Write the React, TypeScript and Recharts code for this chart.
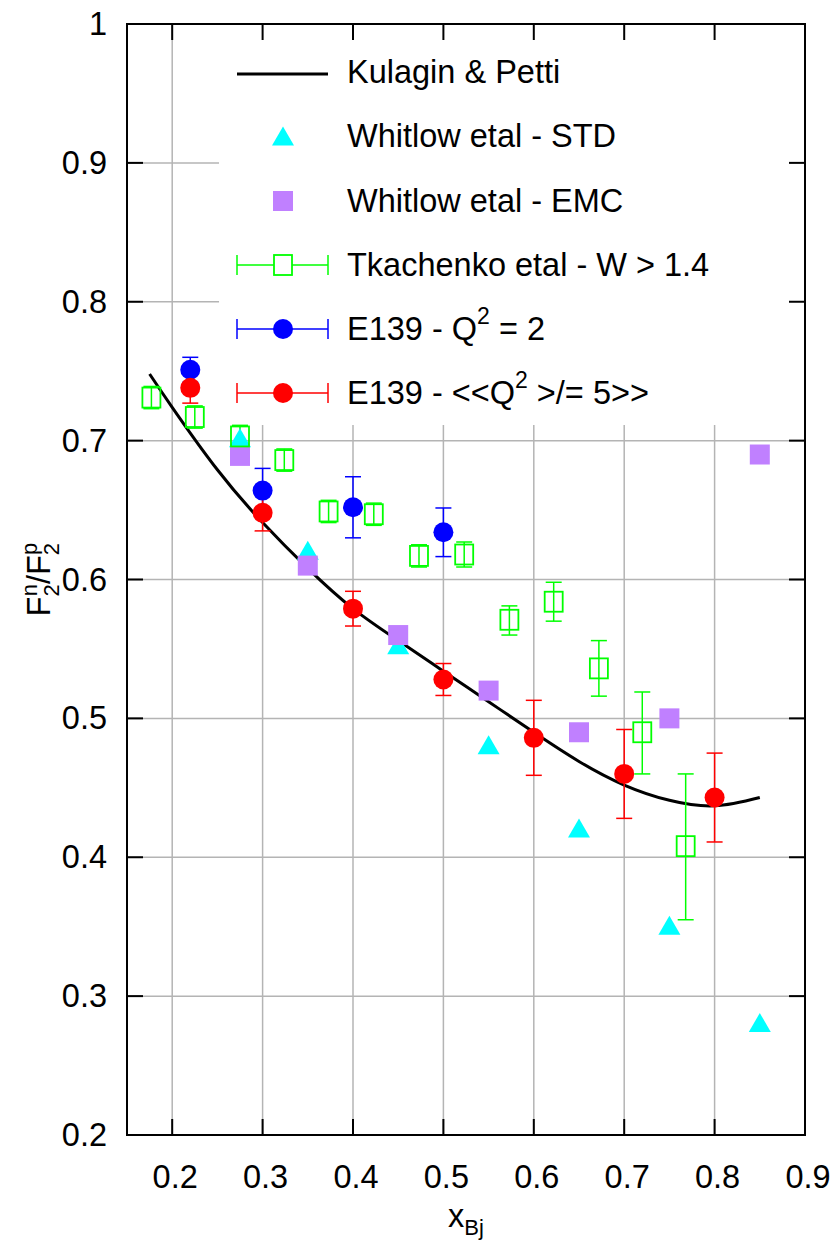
import React from 'react'
import { ComposedChart, Line, Scatter, ErrorBar, XAxis, YAxis, CartesianGrid, ReferenceArea, Legend } from 'recharts'

const xTicks = [0.2, 0.3, 0.4, 0.5, 0.6, 0.7, 0.8, 0.9]
const yTicks = [0.2, 0.3, 0.4, 0.5, 0.6, 0.7, 0.8, 0.9, 1]

// Kulagin & Petti curve
const kpX = [0.175, 0.2, 0.25, 0.3, 0.35, 0.4, 0.45, 0.5, 0.55, 0.6, 0.65, 0.7, 0.75, 0.8, 0.85]
const kpY = [0.748, 0.724, 0.679, 0.641, 0.608, 0.579, 0.556, 0.534, 0.512, 0.49, 0.469, 0.452, 0.441, 0.437, 0.443]

// Whitlow etal - STD
const stdX = [0.275, 0.35, 0.45, 0.55, 0.65, 0.75, 0.85]
const stdY = [0.702, 0.621, 0.553, 0.481, 0.421, 0.351, 0.281]

// Whitlow etal - EMC
const emcX = [0.275, 0.35, 0.45, 0.55, 0.65, 0.75, 0.85]
const emcY = [0.689, 0.61, 0.56, 0.52, 0.49, 0.5, 0.69]

// Tkachenko etal - W > 1.4
const tkX = [0.177, 0.225, 0.275, 0.324, 0.373, 0.423, 0.473, 0.523, 0.573, 0.622, 0.672, 0.72, 0.768]
const tkY = [0.731, 0.717, 0.703, 0.686, 0.649, 0.647, 0.617, 0.618, 0.571, 0.584, 0.536, 0.49, 0.408]
const tkLo = [0.008, 0.008, 0.008, 0.008, 0.008, 0.008, 0.008, 0.009, 0.011, 0.014, 0.02, 0.03, 0.053]
const tkHi = [0.008, 0.008, 0.008, 0.008, 0.008, 0.008, 0.008, 0.009, 0.01, 0.014, 0.02, 0.029, 0.052]

// E139 - Q2 = 2
const q2X = [0.22, 0.3, 0.4, 0.5]
const q2Y = [0.751, 0.664, 0.652, 0.634]
const q2Err = [0.009, 0.016, 0.022, 0.0175]

// E139 - <<Q2>/= 5>>
const q5X = [0.22, 0.3, 0.4, 0.5, 0.6, 0.7, 0.8]
const q5Y = [0.738, 0.648, 0.579, 0.528, 0.486, 0.46, 0.443]
const q5Err = [0.011, 0.013, 0.0125, 0.0115, 0.027, 0.032, 0.032]

const kpData = kpX.map((x, i) => ({ x, y: kpY[i] }))
const stdData = stdX.map((x, i) => ({ x, y: stdY[i] }))
const emcData = emcX.map((x, i) => ({ x, y: emcY[i] }))
const tkData = tkX.map((x, i) => ({ x, y: tkY[i], err: [tkLo[i], tkHi[i]] }))
const q2Data = q2X.map((x, i) => ({ x, y: q2Y[i], err: q2Err[i] }))
const q5Data = q5X.map((x, i) => ({ x, y: q5Y[i], err: q5Err[i] }))

const FONT = '"Liberation Sans", Arial, Helvetica, sans-serif'
const FS = 32.5
const CYAN = '#00ffff'
const PURPLE = '#c080ff'
const GREEN = '#00ff00'
const BLUE = '#0000ff'
const RED = '#ff0000'

// plot frame (margins below put it here)
const W = 833
const H = 1241
const M = { top: 24, right: 28, bottom: 16, left: 27 }
const X_AXIS_H = 90
const Y_AXIS_W = 100
const PLOT_TOP = M.top
const PLOT_BOTTOM = H - M.bottom - X_AXIS_H
const PLOT_LEFT = M.left + Y_AXIS_W
const PLOT_RIGHT = W - M.right
const TICK = 16

const Triangle = ({ cx, cy }: any) => (
  <polygon points={`${cx - 11},${cy + 9.5} ${cx + 11},${cy + 9.5} ${cx},${cy - 9.5}`} fill={CYAN} />
)
const FilledSquare = ({ cx, cy }: any) => <rect x={cx - 10} y={cy - 10} width={20} height={20} fill={PURPLE} />
const OpenSquare = ({ cx, cy }: any) => (
  <rect x={cx - 9} y={cy - 10} width={18} height={20} fill="none" stroke={GREEN} strokeWidth={1.8} />
)
const Dot = (color: string) => ({ cx, cy }: any) => <circle cx={cx} cy={cy} r={10} fill={color} />

// inward ticks on both sides of the frame + label
const XTick = ({ x, payload }: any) => (
  <g>
    <line x1={x} x2={x} y1={PLOT_BOTTOM} y2={PLOT_BOTTOM - TICK} stroke="#000" strokeWidth={2} />
    <line x1={x} x2={x} y1={PLOT_TOP} y2={PLOT_TOP + TICK} stroke="#000" strokeWidth={2} />
    <text x={x + 3} y={PLOT_BOTTOM + 53} textAnchor="middle" fontSize={FS} fontFamily={FONT} fill="#000">
      {payload.value}
    </text>
  </g>
)
const YTick = ({ y, payload }: any) => (
  <g>
    <line x1={PLOT_LEFT} x2={PLOT_LEFT + TICK} y1={y} y2={y} stroke="#000" strokeWidth={2} />
    <line x1={PLOT_RIGHT} x2={PLOT_RIGHT - TICK} y1={y} y2={y} stroke="#000" strokeWidth={2} />
    <text x={PLOT_LEFT - 20} y={y + 11} textAnchor="end" fontSize={FS} fontFamily={FONT} fill="#000">
      {payload.value}
    </text>
  </g>
)

// legend drawn as its own little svg, rows ~64px apart
function LegendBox() {
  const rows = [50, 112, 177, 241, 305, 369]
  const sx = 64
  const tx = 128
  const ts = { fontSize: FS, fill: '#000', fontFamily: FONT }
  const bar = (y: number, color: string) => (
    <g stroke={color} strokeWidth={1.5}>
      <line x1={18} x2={109} y1={y} y2={y} />
      <line x1={18} x2={18} y1={y - 10} y2={y + 10} />
      <line x1={109} x2={109} y1={y - 10} y2={y + 10} />
    </g>
  )
  return (
    <svg width={586} height={401} style={{ display: 'block' }}>
      <line x1={18} x2={109} y1={rows[0]} y2={rows[0]} stroke="#000" strokeWidth={3} />
      <text x={tx} y={rows[0] + 9} {...ts}>Kulagin &amp; Petti</text>

      <Triangle cx={sx} cy={rows[1]} />
      <text x={tx} y={rows[1] + 11} {...ts}>Whitlow etal - STD</text>

      <FilledSquare cx={sx} cy={rows[2]} />
      <text x={tx} y={rows[2] + 11} {...ts}>Whitlow etal - EMC</text>

      {bar(rows[3], GREEN)}
      <rect x={sx - 9} y={rows[3] - 10} width={18} height={20} fill="#fff" stroke={GREEN} strokeWidth={1.8} />
      <text x={tx} y={rows[3] + 11} {...ts}>Tkachenko etal - W &gt; 1.4</text>

      {bar(rows[4], BLUE)}
      <circle cx={sx} cy={rows[4]} r={10} fill={BLUE} />
      <text x={tx} y={rows[4] + 11} {...ts}>
        E139 - Q<tspan dy={-16} fontSize={23}>2</tspan>
        <tspan dy={16}> = 2</tspan>
      </text>

      {bar(rows[5], RED)}
      <circle cx={sx} cy={rows[5]} r={10} fill={RED} />
      <text x={tx} y={rows[5] + 11} {...ts}>
        E139 - &lt;&lt;Q<tspan dy={-16} fontSize={23}>2</tspan>
        <tspan dy={16}> &gt;/= 5&gt;&gt;</tspan>
      </text>
    </svg>
  )
}

const XLabel = ({ viewBox }: any) => {
  const cx = viewBox.x + viewBox.width / 2
  return (
    <text x={cx} y={1227} textAnchor="middle" fontSize={FS} fontFamily={FONT} fill="#000">
      x<tspan dy={8} fontSize={22}>Bj</tspan>
    </text>
  )
}

const YLabel = ({ viewBox }: any) => {
  const cy = viewBox.y + viewBox.height / 2
  const bx = 50
  return (
    <text x={bx} y={cy} transform={`rotate(-90, ${bx}, ${cy})`} textAnchor="middle" fontSize={FS} fontFamily={FONT} fill="#000">
      F<tspan dy={9} fontSize={22}>2</tspan>
      <tspan dx={-12} dy={-22} fontSize={22}>n</tspan>
      <tspan dy={13}>/F</tspan>
      <tspan dy={9} fontSize={22}>2</tspan>
      <tspan dx={-12} dy={-22} fontSize={22}>p</tspan>
    </text>
  )
}

export default function App() {
  return (
    <div style={{ width: W, height: H, background: '#fff' }}>
      <style>{'html,body{margin:0;padding:0;overflow:hidden}'}</style>
      <ComposedChart width={W} height={H} margin={M} style={{ fontFamily: FONT }}>
        <CartesianGrid stroke="#b4b4b4" strokeWidth={1.5} horizontalValues={yTicks} verticalValues={xTicks} />
        <ReferenceArea x1={0.2518} x2={0.9} y1={0.7112} y2={1} fill="#fff" fillOpacity={1} stroke="none" ifOverflow="hidden" />
        <ReferenceArea x1={0.15} x2={0.9} y1={0.2} y2={1} fill="none" stroke="#000" strokeWidth={2} ifOverflow="extendDomain" />
        <XAxis
          dataKey="x"
          type="number"
          domain={[0.15, 0.9]}
          ticks={xTicks}
          allowDataOverflow
          height={X_AXIS_H}
          tickSize={0}
          tickMargin={0}
          tickLine={false}
          axisLine={false}
          tick={<XTick />}
          interval={0}
          label={<XLabel />}
        />
        <YAxis
          type="number"
          domain={[0.2, 1]}
          ticks={yTicks}
          allowDataOverflow
          width={Y_AXIS_W}
          tickSize={0}
          tickMargin={0}
          tickLine={false}
          axisLine={false}
          tick={<YTick />}
          interval={0}
          label={<YLabel />}
        />
        <Legend layout="vertical" align="center" verticalAlign="middle" wrapperStyle={{ left: 219, top: 24, width: 586, height: 401 }} content={() => <LegendBox />} />
        <Line data={kpData} dataKey="y" type="natural" stroke="#000" strokeWidth={3} dot={false} isAnimationActive={false} />
        <Scatter data={stdData} dataKey="y" shape={<Triangle />} isAnimationActive={false} />
        <Scatter data={emcData} dataKey="y" shape={<FilledSquare />} isAnimationActive={false} />
        <Scatter data={tkData} dataKey="y" shape={<OpenSquare />} isAnimationActive={false}>
          <ErrorBar dataKey="err" direction="y" width={8} stroke={GREEN} strokeWidth={1.5} />
        </Scatter>
        <Scatter data={q2Data} dataKey="y" shape={Dot(BLUE)} isAnimationActive={false}>
          <ErrorBar dataKey="err" direction="y" width={8} stroke={BLUE} strokeWidth={1.5} />
        </Scatter>
        <Scatter data={q5Data} dataKey="y" shape={Dot(RED)} isAnimationActive={false}>
          <ErrorBar dataKey="err" direction="y" width={8} stroke={RED} strokeWidth={1.5} />
        </Scatter>
      </ComposedChart>
    </div>
  )
}
